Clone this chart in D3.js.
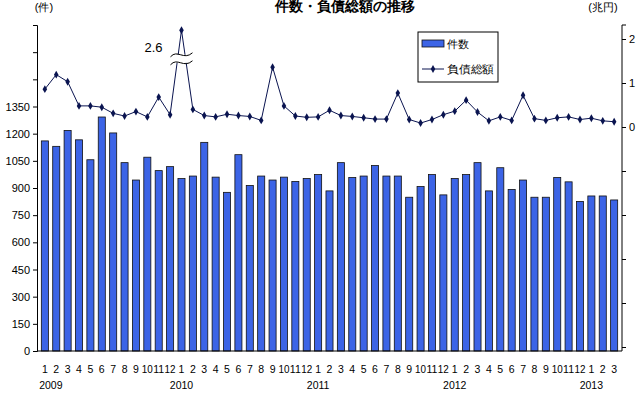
<!DOCTYPE html>
<html><head><meta charset="utf-8">
<script src="https://cdn.jsdelivr.net/npm/d3@7"></script>
<style>body{margin:0;background:#fff}text{font-family:"Liberation Sans",Arial,sans-serif}</style>
</head><body><svg width="640" height="400"></svg>
<script>
// 件数 (bars) and 負債総額 (line, 兆円), Jan 2009 - Mar 2013
const months = [1,2,3,4,5,6,7,8,9,10,11,12, 1,2,3,4,5,6,7,8,9,10,11,12,
    1,2,3,4,5,6,7,8,9,10,11,12, 1,2,3,4,5,6,7,8,9,10,11,12, 1,2,3];
const years = ["2009", "2010", "2011", "2012", "2013"];
const counts = [1160,1130,1218,1166,1056,1292,1204,1040,944,1070,996,1018,
    952,966,1152,960,876,1084,914,966,944,960,936,952,
    974,884,1040,958,966,1024,966,966,849,908,974,862,
    952,974,1040,884,1012,892,944,849,849,958,934,826,
    856,856,834];
const debt = [0.86,1.19,1.03,0.48,0.48,0.45,0.31,0.25,0.35,0.23,0.68,0.28,
    2.6,0.40,0.26,0.23,0.29,0.26,0.24,0.15,1.36,0.48,0.25,0.22,
    0.23,0.38,0.26,0.24,0.21,0.18,0.18,0.77,0.17,0.09,0.17,0.28,
    0.36,0.61,0.34,0.14,0.23,0.15,0.72,0.19,0.15,0.21,0.23,0.17,
    0.20,0.14,0.12];
const leftTicks = [0,150,300,450,600,750,900,1050,1200,1350,1500,1650,1800];
const rightTicks = [-5,-4,-3,-2,-1,0,1,2];
const cap = 2.2; // values above this are drawn with a break mark

var svg = d3.select("svg");
var left = 37, right = 622, bottom = 351;

var x = d3.scaleBand().domain(d3.range(months.length)).range([left, right]).padding(0.38);
var y = d3.scaleLinear().domain([0, 1800]).range([bottom, 25]);
var y2 = d3.scaleLinear().domain([0, 2]).range([127, 39]);

// bars
svg.append("g").selectAll("rect").data(counts).join("rect")
    .attr("x", (d, i) => x(i))
    .attr("y", d => y(d))
    .attr("width", x.bandwidth())
    .attr("height", d => bottom - y(d))
    .attr("fill", "#3c64e6")
    .attr("stroke", "#111")
    .attr("stroke-width", 0.8);

// left axis
var la = svg.append("g").attr("transform", "translate(" + left + ",0)")
    .call(d3.axisLeft(y).tickValues(leftTicks).tickSize(4)
        .tickFormat(d => d <= 1350 ? d : ""));
la.selectAll("text").attr("font-size", 11).attr("fill", "#000");

// right axis
var ra = svg.append("g").attr("transform", "translate(" + right + ",0)")
    .call(d3.axisRight(y2).tickValues(rightTicks).tickSize(4)
        .tickFormat(d => d >= 0 ? d : ""));
ra.select(".domain").attr("d", "M4," + y(1800) + "H0V" + bottom);
ra.selectAll("text").attr("font-size", 11).attr("fill", "#000");

// bottom baseline
svg.append("line").attr("x1", left).attr("x2", right).attr("y1", bottom).attr("y2", bottom).attr("stroke", "#000");

// month and year labels
svg.append("g").selectAll("text").data(months).join("text")
    .attr("x", (d, i) => x(i) + x.bandwidth() / 2)
    .attr("y", 373)
    .attr("text-anchor", "middle")
    .attr("font-size", 10.5)
    .attr("textLength", (d) => d > 9 ? 11 : null)
    .attr("lengthAdjust", "spacingAndGlyphs")
    .text(d => d);
svg.append("g").selectAll("text").data(years).join("text")
    .attr("x", (d, i) => x(i * 12) + x.bandwidth() / 2 + (i == 0 ? 6 : 0))
    .attr("y", 389)
    .attr("text-anchor", "middle")
    .attr("font-size", 10.5)
    .text(d => d);

// line
var line = d3.line()
    .x((d, i) => x(i) + x.bandwidth() / 2)
    .y(d => y2(Math.min(d, cap)));
svg.append("path").datum(debt)
    .attr("fill", "none").attr("stroke", "#0a1450").attr("stroke-width", 1)
    .attr("d", line);
svg.append("g").selectAll("path").data(debt).join("path")
    .attr("transform", (d, i) => "translate(" + (x(i) + x.bandwidth() / 2) + "," + y2(Math.min(d, cap)) + ")")
    .attr("d", d3.symbol(d3.symbolDiamond, 18))
    .attr("fill", "#0a1450");

// break mark and label for capped value
debt.forEach(function(d, i) {
    if (d <= cap) return;
    var cx = x(i) + x.bandwidth() / 2, cy = y2(1.55);
    svg.append("rect").attr("x", cx - 10).attr("y", cy - 4).attr("width", 20).attr("height", 8).attr("fill", "#fff");
    [-4, 4].forEach(function(o) {
        svg.append("path")
            .attr("d", "M" + (cx - 11) + "," + (cy + o + 2) + " C" + (cx - 4) + "," + (cy + o - 6) + " " + (cx + 2) + "," + (cy + o + 6) + " " + (cx + 11) + "," + (cy + o - 2))
            .attr("fill", "none").attr("stroke", "#000").attr("stroke-width", 1);
    });
    svg.append("text").attr("x", cx - 19).attr("y", 52).attr("text-anchor", "end")
        .attr("font-size", 13).text(d);
});

// legend
var lg = svg.append("g").attr("transform", "translate(418,32)");
lg.append("rect").attr("width", 80).attr("height", 50).attr("fill", "#fff").attr("stroke", "#000");
lg.append("rect").attr("x", 4).attr("y", 8).attr("width", 22).attr("height", 7).attr("fill", "#3c64e6").attr("stroke", "#111").attr("stroke-width", 0.8);
lg.append("text").attr("x", 29).attr("y", 16).attr("font-size", 11).text("件数");
lg.append("line").attr("x1", 4).attr("x2", 26).attr("y1", 37).attr("y2", 37).attr("stroke", "#0a1450");
lg.append("path").attr("transform", "translate(15,37)").attr("d", d3.symbol(d3.symbolDiamond, 18)).attr("fill", "#0a1450");
lg.append("text").attr("x", 29).attr("y", 41).attr("font-size", 11).attr("textLength", 47).attr("lengthAdjust", "spacingAndGlyphs").text("負債総額");

// titles
svg.append("text").attr("x", 345).attr("y", 11).attr("text-anchor", "middle").attr("font-size", 14).attr("font-weight", "bold").text("件数・負債総額の推移");
svg.append("text").attr("x", 44).attr("y", 11).attr("text-anchor", "middle").attr("font-size", 11).text("(件)");
svg.append("text").attr("x", 603).attr("y", 11).attr("text-anchor", "middle").attr("font-size", 11).text("(兆円)");
</script></body></html>
